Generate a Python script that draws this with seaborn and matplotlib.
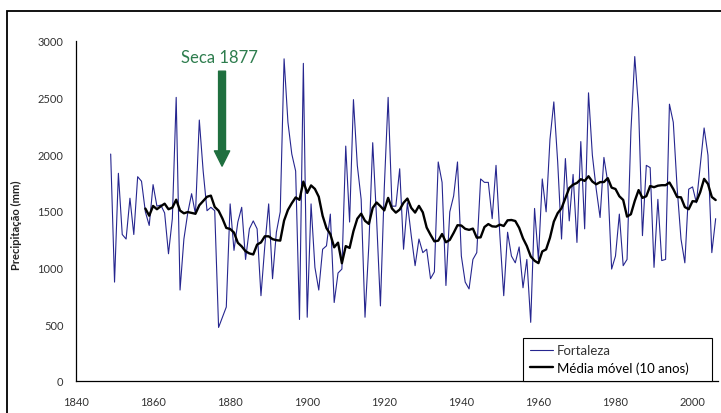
import numpy as np
import pandas as pd
import seaborn as sns
import matplotlib.pyplot as plt
from matplotlib.patches import Rectangle

# annual rainfall, Fortaleza (mm)
years = list(range(1849, 2007))
rain = [2000, 870, 1830, 1290, 1250, 1610, 1290, 1800, 1760, 1490,
        1370, 1730, 1540, 1550, 1480, 1120, 1430, 2500, 800, 1250,
        1480, 1650, 1470, 2300, 1850, 1500, 1530, 1500, 470, 560,
        650, 1560, 1150, 1400, 1530, 1070, 1340, 1410, 1340, 750,
        1190, 1560, 900, 1310, 1490, 2840, 2280, 2000, 1850, 540,
        2800, 560, 1560, 1000, 800, 1160, 1190, 1470, 690, 950,
        985, 2070, 1400, 2480, 1900, 1600, 560, 1200, 2100, 1430,
        660, 1700, 2500, 1540, 1540, 1870, 1160, 1570, 1280, 1015,
        1250, 1130, 1160, 900, 960, 1930, 1750, 840, 1490, 1630,
        1930, 1100, 870, 810, 1070, 1130, 1780, 1750, 1750, 1430,
        1900, 1280, 750, 1310, 1100, 1040, 1180, 820, 1070, 515,
        1520, 1070, 1780, 1490, 2130, 2460, 1930, 1250, 1960, 1410,
        1820, 1220, 2110, 1340, 2540, 1990, 1690, 1440, 1970, 1750,
        985, 1100, 1470, 1015, 1070, 2200, 2860, 2400, 1280, 1900,
        1880, 1000, 1600, 1060, 1070, 2440, 2280, 1700, 1250, 1040,
        1690, 1710, 1570, 1900, 2230, 1990, 1130, 1430]

x_ticks = [1840, 1860, 1880, 1900, 1920, 1940, 1960, 1980, 2000]
y_ticks = [0, 500, 1000, 1500, 2000, 2500, 3000]

df = pd.DataFrame({'ano': years, 'Fortaleza': rain})
df['media'] = df['Fortaleza'].rolling(10).mean()

sns.set_style('white')
plt.rcParams['font.family'] = ['Lato', 'DejaVu Sans']

fig = plt.figure(figsize=(7.21, 4.14), dpi=100)
ax = fig.add_axes([76 / 721, (414 - 381.7) / 414, (717.6 - 76) / 721, 340 / 414])

sns.lineplot(data=df, x='ano', y='Fortaleza', color='#26268f', lw=0.8,
             ax=ax, label='Fortaleza')
sns.lineplot(data=df, x='ano', y='media', color='black', lw=1.7,
             ax=ax, label='Média móvel (10 anos)')

ax.set_xlim(1840, 2006.5)
ax.set_ylim(0, 3000)
ax.set_xticks(x_ticks)
ax.set_yticks(y_ticks)
ax.tick_params(axis='x', direction='out', length=4, width=0.8, pad=7,
               labelsize=8, colors='#333333')
ax.tick_params(axis='y', direction='out', length=5, width=0.8, pad=4,
               labelsize=8, colors='#333333')
ax.tick_params(axis='both', color='black')
sns.despine(ax=ax)
for s in ['left', 'bottom']:
    ax.spines[s].set_color('black')
    ax.spines[s].set_linewidth(0.9)

ax.set_xlabel('')
ax.set_ylabel('Precipitação (mm)', fontsize=8, fontweight='bold', color='#222222')
ax.yaxis.set_label_coords(-0.084, 0.46)

# drought marker
ax.annotate('', xy=(1877.9, 1893), xytext=(1877.9, 2731),
            arrowprops=dict(arrowstyle='simple,head_length=1.1,head_width=1.1,tail_width=0.5',
                            color='#1f6f3f', shrinkA=0, shrinkB=0, mutation_scale=10))
ax.text(1877.1, 2855, 'Seca 1877', ha='center', va='center', fontsize=12,
        color='#2e7d4e')

leg = ax.legend(loc='lower left',
                bbox_to_anchor=((523 - 76) / 641.6, 0, (712 - 523) / 641.6, 0.137),
                mode='expand', frameon=True, fancybox=False, edgecolor='black',
                framealpha=1, fontsize=9.5, handlelength=1.8, borderpad=0.5,
                labelspacing=0.4, handletextpad=0.25, borderaxespad=0)
leg.get_frame().set_linewidth(0.8)
texts = leg.get_texts()
texts[0].set_color('#333333')
texts[1].set_color('black')

# outer frame of the original figure
fig.patches.append(Rectangle((7 / 721, -0.05), 1.2, 1.021, transform=fig.transFigure,
                             fill=False, lw=1.3, ec='black'))

fig.savefig('out.png', dpi=100)
